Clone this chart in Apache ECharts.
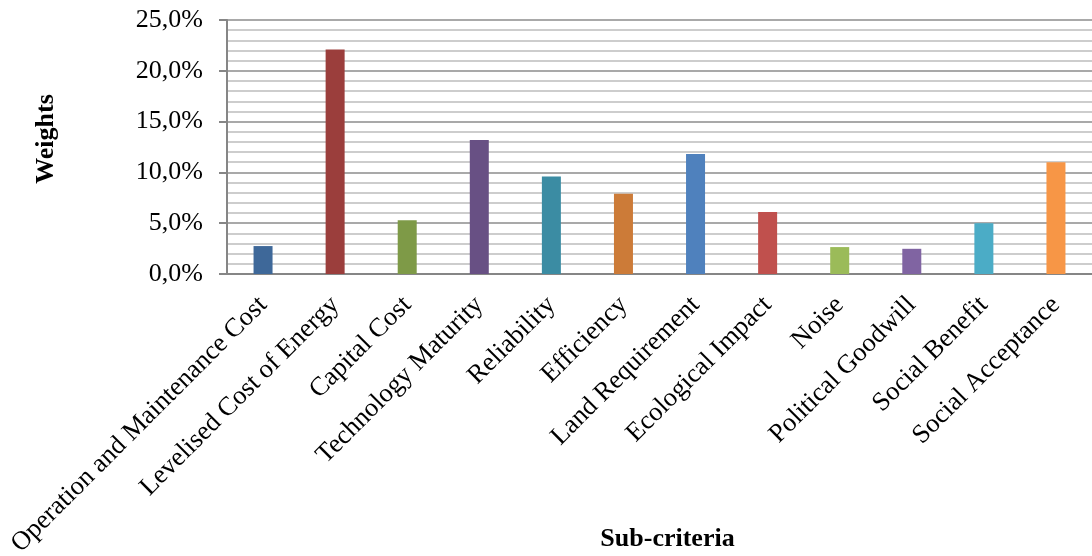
<!DOCTYPE html>
<html>
<head>
<meta charset="utf-8">
<title>Sub-criteria weights</title>
<script src="https://cdn.jsdelivr.net/npm/echarts@6/dist/echarts.min.js"></script>
<style>
  html, body { margin: 0; padding: 0; background: #ffffff; }
  #chart { width: 1092px; height: 556px; }
</style>
</head>
<body>
<div id="chart"></div>
<script>
// Sub-criteria and their weights (fraction of total)
const categories = [
  'Operation and Maintenance Cost',
  'Levelised Cost of Energy',
  'Capital Cost',
  'Technology Maturity',
  'Reliability',
  'Efficiency',
  'Land Requirement',
  'Ecological Impact',
  'Noise',
  'Political Goodwill',
  'Social Benefit',
  'Social Acceptance'
];
const weights = [0.0275, 0.221, 0.053, 0.132, 0.096, 0.079, 0.118, 0.061, 0.0265, 0.0248, 0.050, 0.110];

// One colour per bar
const barColors = [
  '#3E6899', '#9B3E3C', '#7E9A47', '#685084', '#3B8CA3', '#CC7B38',
  '#4F81BD', '#C0504D', '#9BBB59', '#8064A2', '#4BACC6', '#F79646'
];

const yTicks = { min: 0, max: 0.25, interval: 0.05 };

const FONT = "'Liberation Serif', 'Times New Roman', serif";

const chart = echarts.init(document.getElementById('chart'), null, { renderer: 'canvas' });

chart.setOption({
  animation: false,
  backgroundColor: '#ffffff',
  grid: { left: 227, right: 0, top: 20, bottom: 282, containLabel: false, outerBoundsMode: 'none' },
  xAxis: {
    type: 'category',
    data: categories,
    name: 'Sub-criteria',
    nameLocation: 'middle',
    nameGap: 252,
    nameMoveOverlap: false,
    nameTextStyle: {
      fontFamily: FONT, fontSize: 26, fontWeight: 'bold', color: '#000',
      padding: [0, 0, 0, 16]
    },
    axisLine: { show: true, lineStyle: { color: '#868686', width: 2 } },
    axisTick: { show: false },
    axisLabel: {
      interval: 0,
      rotate: 45,
      margin: 27,
      fontFamily: FONT, fontSize: 26.5, color: '#000'
    },
    splitLine: { show: false }
  },
  yAxis: {
    type: 'value',
    min: yTicks.min,
    max: yTicks.max,
    interval: yTicks.interval,
    name: 'Weights',
    nameLocation: 'middle',
    nameGap: 168,
    nameMoveOverlap: false,
    nameRotate: 90,
    nameTextStyle: {
      fontFamily: FONT, fontSize: 26, fontWeight: 'bold', color: '#000',
      padding: [0, 0, 0, 16]
    },
    axisLine: { show: true, lineStyle: { color: '#868686', width: 2 } },
    axisTick: { show: true, inside: false, length: 8, lineStyle: { color: '#868686', width: 2 } },
    axisLabel: {
      margin: 24,
      fontFamily: FONT, fontSize: 26, color: '#000',
      formatter: v => (v * 100).toFixed(1).replace('.', ',') + '%'
    },
    splitLine: { show: true, lineStyle: { color: '#8C8C8C', width: 1.5 } },
    minorTick: { show: false, splitNumber: 5 },
    minorSplitLine: { show: true, lineStyle: { color: '#BDBDBD', width: 1.5 } }
  },
  series: [{
    type: 'bar',
    data: weights.map((v, i) => ({ value: v, itemStyle: { color: barColors[i] } })),
    barWidth: 19
  }]
});
</script>
</body>
</html>
